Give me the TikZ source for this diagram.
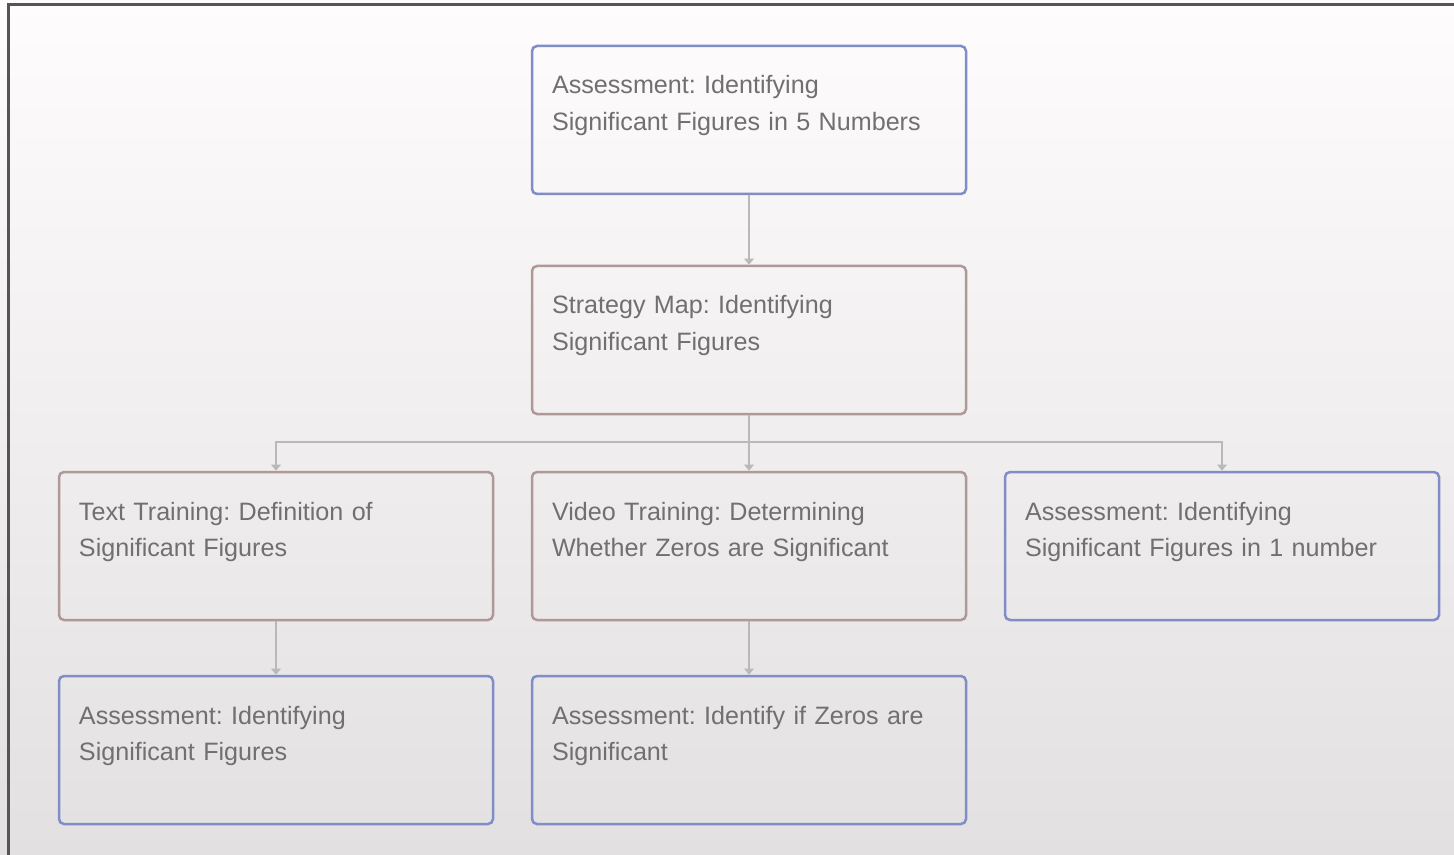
\documentclass[tikz,border=0pt]{standalone}
\usepackage{fontspec}
\setmainfont{Liberation Sans}
\usetikzlibrary{arrows.meta}
\definecolor{asblue}{RGB}{128,141,199}
\definecolor{trbrown}{RGB}{176,152,152}
\definecolor{txtgray}{RGB}{112,112,112}
\definecolor{linkgray}{RGB}{185,185,185}
\definecolor{bgtop}{RGB}{254,252,252}
\definecolor{bgbot}{RGB}{226,224,225}
\definecolor{framegray}{RGB}{85,85,85}
\frenchspacing

\begin{document}
\begin{tikzpicture}[
  every node/.style={rectangle, rounded corners=0.1cm, line width=0.05cm, align=left,
    text width=7.88cm, inner xsep=0.4cm, inner ysep=0cm, text height=0.96cm, text depth=2cm,
    text=txtgray, font=\fontsize{14.3}{21}\selectfont},
  assess/.style={draw=asblue},
  train/.style={draw=trbrown},
  edge from parent/.style={draw=linkgray, line width=0.04cm, -{Triangle[length=3.5pt,width=5.5pt]}},
  edge from parent path={(\tikzparentnode.south) -- ++(0,-0.54) -| (\tikzchildnode.north)},
  level 1/.style={level distance=4.4cm},
  level 2/.style={level distance=4.12cm, sibling distance=9.46cm},
  level 3/.style={level distance=4.08cm}
]
\useasboundingbox (0,0) rectangle (29.08,-17.1);
\shade[top color=bgtop, bottom color=bgbot] (0,0) rectangle (29.08,-17.1);
\draw[framegray, line width=0.06cm] (0.18,-17.1) |- (29.08,-0.1);

\node[assess] (a0) at (14.98,-2.4) {Assessment: Identifying\\ Significant Figures in 5 Numbers}
  child {node[train] (s0) {Strategy Map: Identifying\\ Significant Figures}
    child {node[train] (t1) {Text Training: Definition of\\ Significant Figures}
      child {node[assess] (a2) {Assessment: Identifying\\ Significant Figures}}
    }
    child {node[train] (v1) {Video Training: Determining\\ Whether Zeros are Significant}
      child {node[assess] (a3) {Assessment: Identify if Zeros are\\ Significant}}
    }
    child {node[assess] (a1) {Assessment: Identifying\\ Significant Figures in 1 number}}
  };

\end{tikzpicture}
\end{document}
